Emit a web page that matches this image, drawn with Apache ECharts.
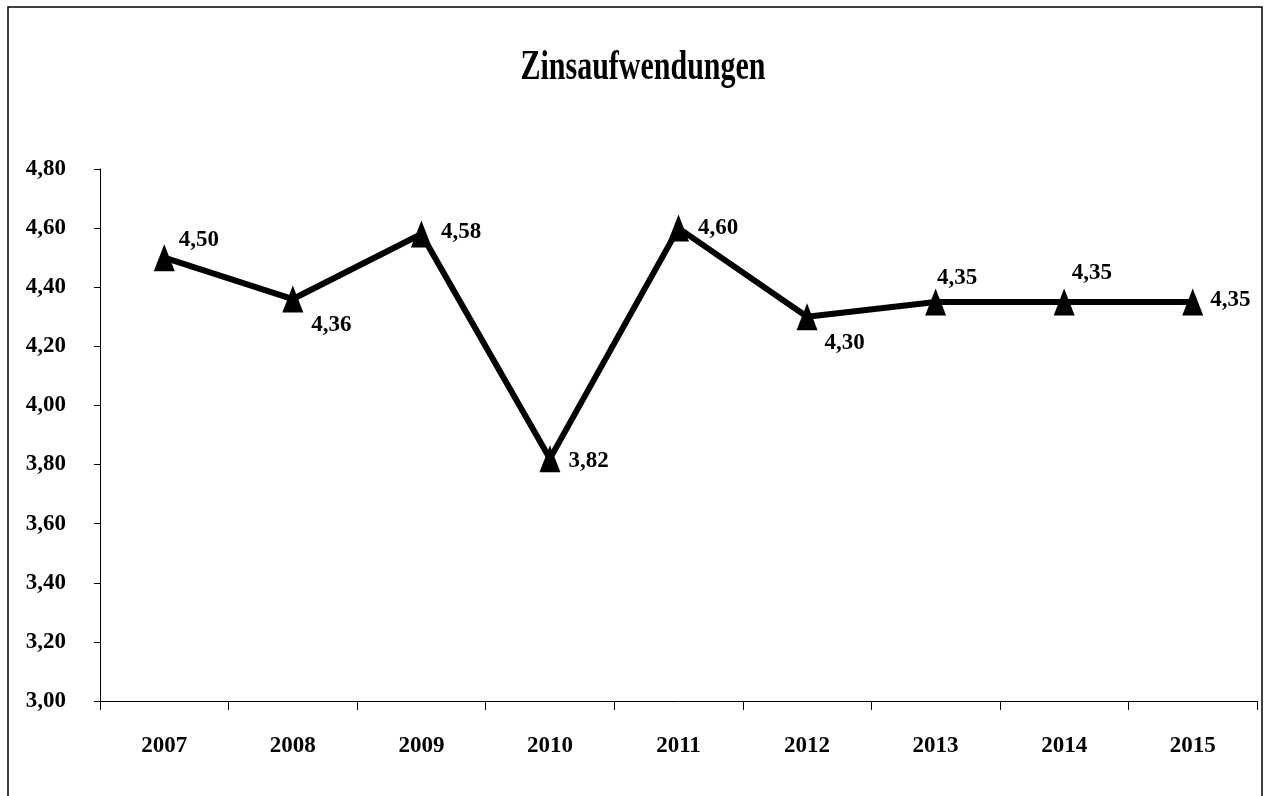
<!DOCTYPE html>
<html>
<head>
<meta charset="utf-8">
<title>Zinsaufwendungen</title>
<script src="https://cdn.jsdelivr.net/npm/echarts@6/dist/echarts.min.js"></script>
<style>
  body { margin: 0; background: #fff; }
  #main { width: 1264px; height: 796px; }
</style>
</head>
<body>
<div id="main"></div>
<script type="text/javascript">
// data
var years = ['2007', '2008', '2009', '2010', '2011', '2012', '2013', '2014', '2015'];
var werte = [4.50, 4.36, 4.58, 3.82, 4.60, 4.30, 4.35, 4.35, 4.35];
// where each value label sits next to its marker
var labelOffsets = [[4, -18], [8, 26], [9, -2], [8, 2], [9, 0], [7, 26], [-9, -24], [-3, -29], [7, -2]];

var fontName = '"Liberation Serif", "Times New Roman", serif';

function komma(v) {
    return v.toFixed(2).replace('.', ',');
}

var punkte = [];
for (var i = 0; i < werte.length; i++) {
    punkte.push({
        value: werte[i],
        label: { offset: labelOffsets[i] }
    });
}

var myChart = echarts.init(document.getElementById('main'));
var option = {
    animation: false,
    backgroundColor: '#fff',
    graphic: [{
        type: 'rect',
        shape: { x: 8, y: 7, width: 1254, height: 800 },
        style: { fill: 'none', stroke: '#000', lineWidth: 1.5 },
        silent: true
    }, {
        // title, stretched upward like the narrow original font
        type: 'text',
        x: 643,
        y: 68,
        scaleY: 1.4,
        style: {
            text: 'Zinsaufwendungen',
            align: 'center',
            verticalAlign: 'middle',
            font: 'bold 30px ' + fontName,
            fill: '#000'
        },
        silent: true
    }],
    grid: {
        left: 100,
        right: 7,
        top: 169,
        bottom: 95
    },
    xAxis: {
        type: 'category',
        data: years,
        boundaryGap: true,
        axisLine: { lineStyle: { color: '#000', width: 1 } },
        axisTick: { show: true, length: 9, lineStyle: { color: '#000' } },
        axisLabel: {
            margin: 34,
            color: '#000',
            fontFamily: fontName,
            fontWeight: 'bold',
            fontSize: 23
        },
        splitLine: { show: false }
    },
    yAxis: {
        type: 'value',
        min: 3.0,
        max: 4.8,
        interval: 0.2,
        axisLine: { show: true, lineStyle: { color: '#000', width: 1 } },
        axisTick: { show: true, length: 6, lineStyle: { color: '#000' } },
        axisLabel: {
            margin: 34,
            color: '#000',
            fontFamily: fontName,
            fontWeight: 'bold',
            fontSize: 23,
            formatter: function (v) { return komma(v); }
        },
        splitLine: { show: false }
    },
    series: [{
        type: 'line',
        data: punkte,
        symbol: 'triangle',
        symbolSize: [21, 27],
        itemStyle: { color: '#000' },
        lineStyle: { color: '#000', width: 6 },
        label: {
            show: true,
            position: 'right',
            distance: 0,
            color: '#000',
            fontFamily: fontName,
            fontWeight: 'bold',
            fontSize: 23,
            formatter: function (p) { return komma(p.value); }
        }
    }]
};
myChart.setOption(option);
</script>
</body>
</html>
